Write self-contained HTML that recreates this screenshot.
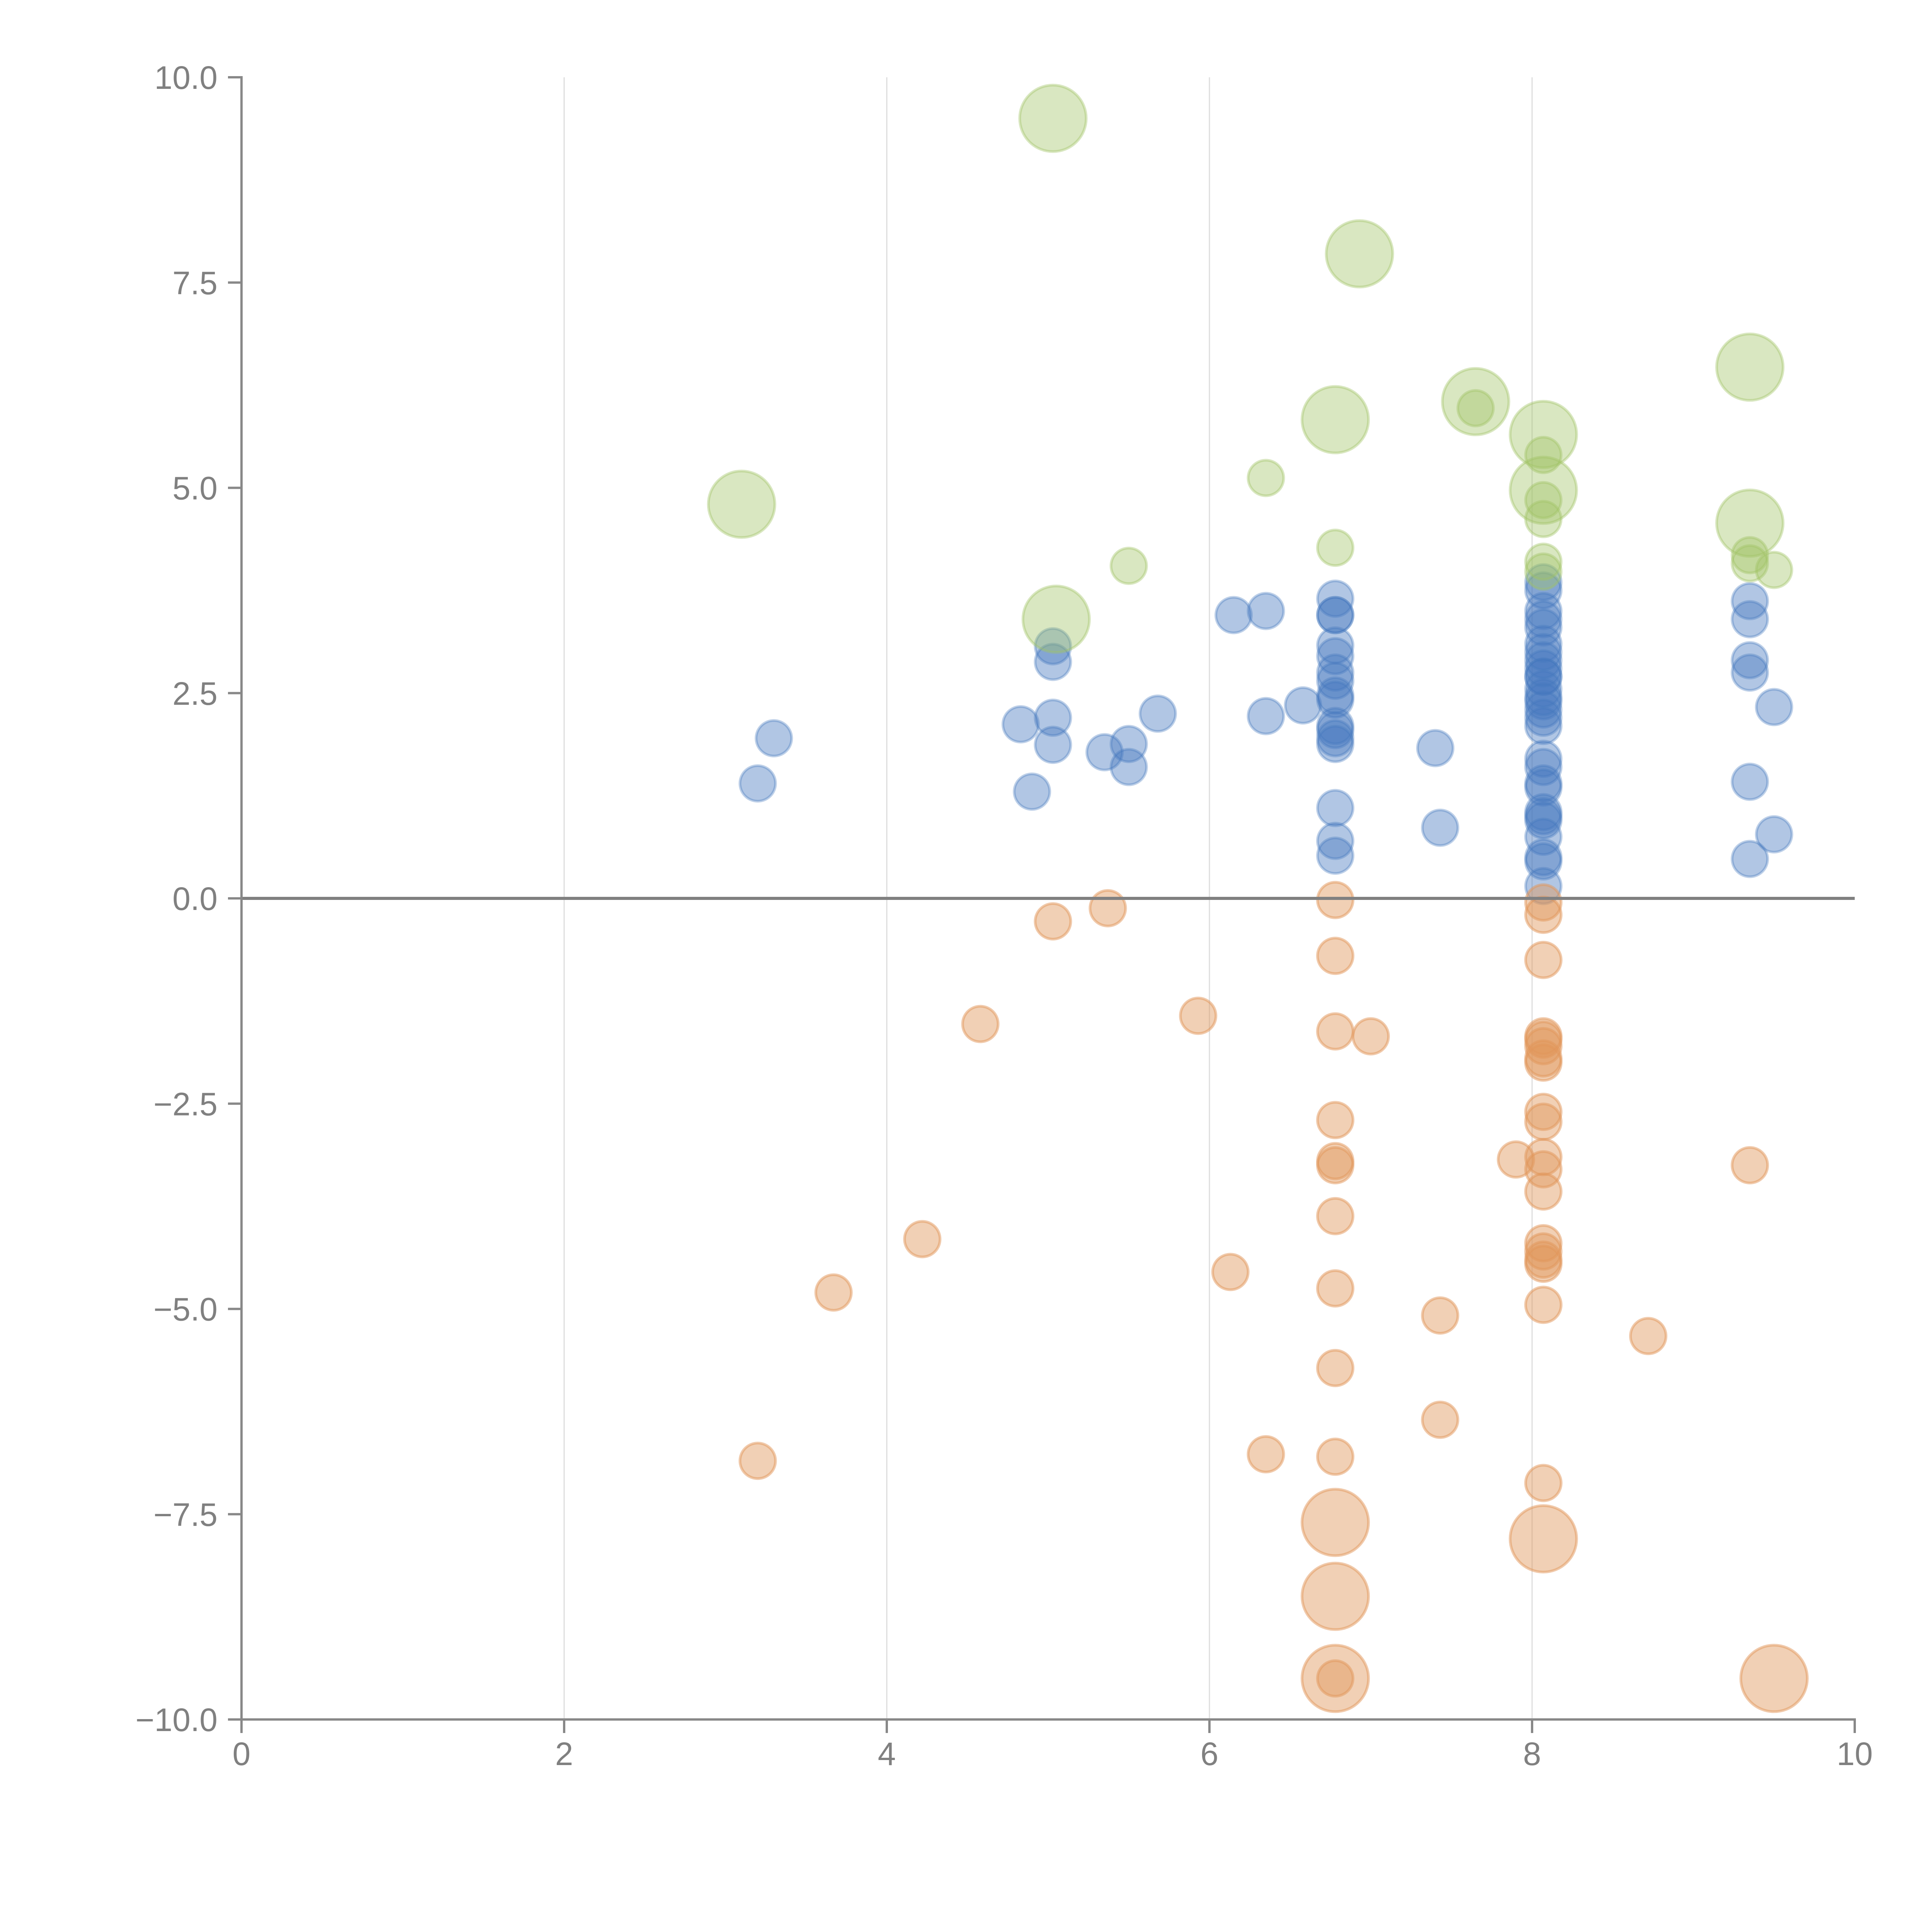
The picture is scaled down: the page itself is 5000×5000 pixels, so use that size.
<!DOCTYPE html>
<html><head><meta charset="utf-8"><style>html,body{margin:0;padding:0;background:#fff}svg{display:block}</style></head>
<body>
<svg id="chart" width="5000" height="5000" xmlns="http://www.w3.org/2000/svg" font-family="Liberation Sans, sans-serif"></svg>
<script>
const xTicks = [0,2,4,6,8,10];
const yTicks = [-10,-7.5,-5,-2.5,0,2.5,5,7.5,10];
const blueX = [3.3,3.2,4.83,4.9,5.03,5.03,5.03,5.03,5.35,5.5,5.5,5.68,6.15,6.35,6.35,6.58,6.78,6.78,6.78,6.78,6.78,6.78,6.78,6.78,6.78,6.78,6.78,6.78,6.78,6.78,6.78,6.78,7.4,7.43,
 8.07,8.07,8.07,8.07,8.07,8.07,8.07,8.07,8.07,8.07,8.07,8.07,8.07,8.07,8.07,8.07,8.07,8.07,8.07,8.07,8.07,8.07,8.07,8.07,8.07,8.07,8.07,8.07,
 9.35,9.35,9.35,9.35,9.5,9.35,9.35,9.5];
const blueY = [1.95,1.4,2.12,1.3,3.07,2.88,2.2,1.87,1.78,1.88,1.6,2.25,3.45,3.5,2.22,2.35,3.65,3.45,3.45,3.08,2.95,2.75,2.65,2.47,2.42,2.1,2.05,1.95,1.88,1.1,0.7,0.52,1.83,0.86,
 3.85,3.75,3.5,3.4,3.3,3.1,3.0,2.9,2.8,2.7,2.7,2.55,2.45,2.4,2.3,2.2,2.1,1.7,1.6,1.4,1.35,1.05,1.0,0.95,0.75,0.5,0.45,0.15,
 3.62,3.4,2.9,2.75,2.33,1.42,0.48,0.78];
const blueS = blueX.map(()=>1);
const orangeX = [3.2,3.67,4.22,4.58,5.03,5.37,5.93,6.13,6.35,6.78,6.78,6.78,7.0,6.78,6.78,6.78,6.78,6.78,6.78,6.78,6.78,7.43,7.43,7.9,
 8.07,8.07,8.07,8.07,8.07,8.07,8.07,8.07,8.07,8.07,8.07,8.07,8.07,8.07,8.07,8.07,8.07,8.07,8.07,8.72,9.35,
 6.78,6.78,6.78,8.07,9.5];
const orangeY = [-6.85,-4.8,-4.15,-1.53,-0.28,-0.12,-1.43,-4.55,-6.77,-0.02,-0.7,-1.62,-1.68,-2.7,-3.2,-3.25,-3.87,-4.75,-5.72,-6.8,-9.5,-5.08,-6.35,-3.18,
 -0.05,-0.2,-0.75,-1.68,-1.72,-1.8,-1.95,-2.0,-2.6,-2.72,-3.15,-3.3,-3.57,-4.2,-4.3,-4.4,-4.45,-4.95,-7.12,-5.33,-3.25,
 -7.6,-8.5,-9.5,-7.8,-9.5];
const orangeS = [1,1,1,1,1,1,1,1,1,1,1,1,1,1,1,1,1,1,1,1,1,1,1,1,1,1,1,1,1,1,1,1,1,1,1,1,1,1,1,1,1,1,1,1,1,3.5,3.5,3.5,3.5,3.5];
const greenX = [6.35,5.5,6.78,7.65,8.07,8.07,8.07,8.07,8.07,9.35,9.35,9.5, 5.03,6.93,3.1,5.05,6.78,7.65,8.07,8.07,9.35,9.35];
const greenY = [5.12,4.05,4.27,5.97,5.4,4.85,4.62,4.1,3.98,4.18,4.08,4.0, 9.5,7.85,4.8,3.4,5.83,6.05,5.65,4.97,6.47,4.57];
const greenS = [1,1,1,1,1,1,1,1,1,1,1,1,3.5,3.5,3.5,3.5,3.5,3.5,3.5,3.5,3.5,3.5];

const X0=625,X1=4800,Y0=4450,Y1=200;
const sx=v=>X0+(v-0)/10*(X1-X0);
const sy=v=>Y0-(v+10)/20*(Y0-Y1);
const sr=s=>46*Math.sqrt(s);
const svg=document.getElementById('chart');
const NS='http://www.w3.org/2000/svg';
function mk(t,a,p){const e=document.createElementNS(NS,t);for(const k in a)e.setAttribute(k,a[k]);(p||svg).appendChild(e);return e;}

const grid=mk('g',{});


xTicks.slice(1,-1).forEach(v=>{const l=mk('line',{x1:sx(v),x2:sx(v),y1:Y1,y2:Y0,stroke:'#dddddd','stroke-width':3},grid);

});

function series(name,xs,ys,ss,fill,stroke){
 const g=mk('g',{});
 
 
 xs.forEach((x,i)=>{const c=mk('circle',{cx:sx(x),cy:sy(ys[i]),r:sr(ss[i]),fill:fill,stroke:stroke,'stroke-width':7},g);
 
 });
}
series('blue',blueX,blueY,blueS,'rgba(70,120,190,0.42)','rgba(70,120,190,0.35)');
series('orange',orangeX,orangeY,orangeS,'rgba(225,150,90,0.45)','rgba(225,150,90,0.5)');
series('green',greenX,greenY,greenS,'rgba(160,195,100,0.40)','rgba(160,195,100,0.4)');

const zl=mk('line',{x1:X0,x2:X1,y1:sy(0),y2:sy(0),stroke:'#808080','stroke-width':8});



const ax=mk('g',{stroke:'#888888','stroke-width':6,fill:'none'});


mk('line',{x1:X0,x2:X0,y1:Y1-3,y2:Y0+3},ax);
mk('line',{x1:X0-3,x2:X1+3,y1:Y0,y2:Y0},ax);
const lab=mk('g',{fill:'#808080','font-size':84});
xTicks.forEach(v=>{mk('line',{x1:sx(v),x2:sx(v),y1:Y0,y2:Y0+35},ax);
 const t=mk('text',{x:sx(v),y:Y0+118,'text-anchor':'middle'},lab);t.textContent=String(v);
 
 });
yTicks.forEach(v=>{mk('line',{x1:X0-35,x2:X0,y1:sy(v),y2:sy(v)},ax);
 const t=mk('text',{x:X0-62,y:sy(v)+30,'text-anchor':'end'},lab);t.textContent=v.toFixed(1).replace('-','\u2212');
 
 });
</script>
</body></html>
